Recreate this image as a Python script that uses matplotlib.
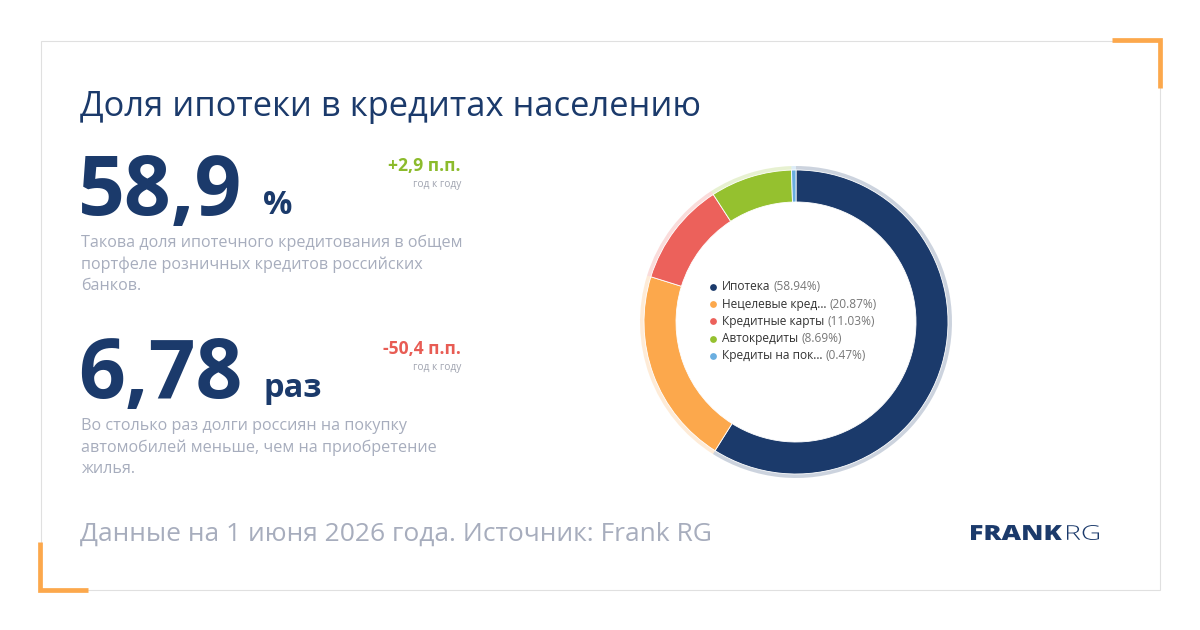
import matplotlib
matplotlib.use("Agg")
import matplotlib.pyplot as plt
from matplotlib.patches import Rectangle, PathPatch
from matplotlib.textpath import TextPath
from matplotlib.font_manager import FontProperties
from matplotlib.transforms import Affine2D

plt.rcParams['font.family'] = ['Open Sans', 'DejaVu Sans']

# data
categories = ['Ипотека', 'Нецелевые кред…', 'Кредитные карты', 'Автокредиты', 'Кредиты на пок…']
shares = [58.94, 20.87, 11.03, 8.69, 0.47]
slice_colors = ['#1b3a6b', '#fca84c', '#ec615b', '#95c12f', '#6aaee0']

title = 'Доля ипотеки в кредитах населению'
kpi_values = ['58,9', '6,78']
kpi_units = ['%', 'раз']
kpi_changes = ['+2,9 п.п.', '-50,4 п.п.']
kpi_change_colors = ['#8cbb2c', '#e85c54']
kpi_notes = [['Такова доля ипотечного кредитования в общем',
              'портфеле розничных кредитов российских',
              'банков.'],
             ['Во столько раз долги россиян на покупку',
              'автомобилей меньше, чем на приобретение',
              'жилья.']]
footer = 'Данные на 1 июня 2026 года. Источник: Frank RG'

navy = '#1b3a6b'
grey = '#a7adbd'
orange = '#fca84c'

fig = plt.figure(figsize=(12, 6.3), dpi=100)
fig.patch.set_facecolor('white')

# pixel-coordinate overlay
ax0 = fig.add_axes([0, 0, 1, 1])
ax0.set_xlim(0, 1200)
ax0.set_ylim(630, 0)
ax0.axis('off')

ax0.add_patch(Rectangle((40.5, 40.5), 1119, 549, facecolor='white',
                        edgecolor='#e0e0e0', lw=0.8))
ax0.plot([1112, 1159.6, 1159.6], [40.4, 40.4, 88], color=orange, lw=3.4,
         solid_capstyle='butt', solid_joinstyle='miter')
ax0.plot([40.4, 40.4, 88], [542, 589.6, 589.6], color=orange, lw=3.4,
         solid_capstyle='butt', solid_joinstyle='miter')

ax0.text(80, 116, title, fontsize=24.8, color=navy, va='baseline', ha='left')

# KPI blocks
base_y = [215, 398]
unit_x = [263, 264]
for i in range(2):
    y = base_y[i]
    ax0.text(78, y, kpi_values[i], fontsize=59, fontweight='bold', color=navy,
             va='baseline', ha='left')
    ax0.text(unit_x[i], y - 1, kpi_units[i], fontsize=23.5, fontweight='bold',
             color=navy, va='baseline', ha='left')
    ax0.text(461, y - 44, kpi_changes[i], fontsize=12.6, fontweight='bold',
             color=kpi_change_colors[i], va='baseline', ha='right')
    ax0.text(461, y - 28, 'год к году', fontsize=7.3, color='#a0a4b0',
             va='baseline', ha='right')
    for j, line in enumerate(kpi_notes[i]):
        ax0.text(81, y + 32 + j * 21.7, line, fontsize=11.6, color=grey,
                 va='baseline', ha='left')

ax0.text(80, 541, footer, fontsize=19, color=grey, va='baseline', ha='left')

# logo
def logo_text(s, weight, x0, x1, y0, y1):
    tp = TextPath((0, 0), s, size=20, prop=FontProperties(family='Open Sans', weight=weight))
    bb = tp.get_extents()
    sx = (x1 - x0) / bb.width
    sy = (y1 - y0) / bb.height
    tr = Affine2D().translate(-bb.x0, -bb.y0).scale(sx, -sy).translate(x0, y1)
    ax0.add_patch(PathPatch(tr.transform_path(tp), facecolor=navy, edgecolor='none'))

logo_text('FRANK', 'heavy', 971, 1062, 525, 540)
logo_text('RG', 'light', 1067, 1099, 525, 540)

# donut
cx, cy = 796, 322
half = 165
ax = fig.add_axes([(cx - half) / 1200, (630 - cy - half) / 630, 2 * half / 1200, 2 * half / 630])
ax.pie(shares, colors=slice_colors, radius=156, startangle=90, counterclock=False,
       wedgeprops=dict(width=4, alpha=0.22, linewidth=0))
ax.pie(shares, colors=slice_colors, radius=152, startangle=90, counterclock=False,
       wedgeprops=dict(width=32, edgecolor='white', linewidth=0.6))
ax.set_xlim(-half, half)
ax.set_ylim(-half, half)
ax.set_aspect('equal')
ax.axis('off')

# legend inside donut
for i, (name, val) in enumerate(zip(categories, shares)):
    y = 287 + i * 17.2
    ax0.scatter([713], [y], s=24, color=slice_colors[i], zorder=5, linewidths=0)
    t = ax0.text(722, y, name, fontsize=8.6, color='#333333', va='center', ha='left')
    ax0.annotate('(%.2f%%)' % val, xy=(1, 0.5), xycoords=t, xytext=(2.2, 0),
                 textcoords='offset points', fontsize=8.6, color='#777777',
                 va='center', ha='left')

fig.savefig('out.png', dpi=100, facecolor='white')
